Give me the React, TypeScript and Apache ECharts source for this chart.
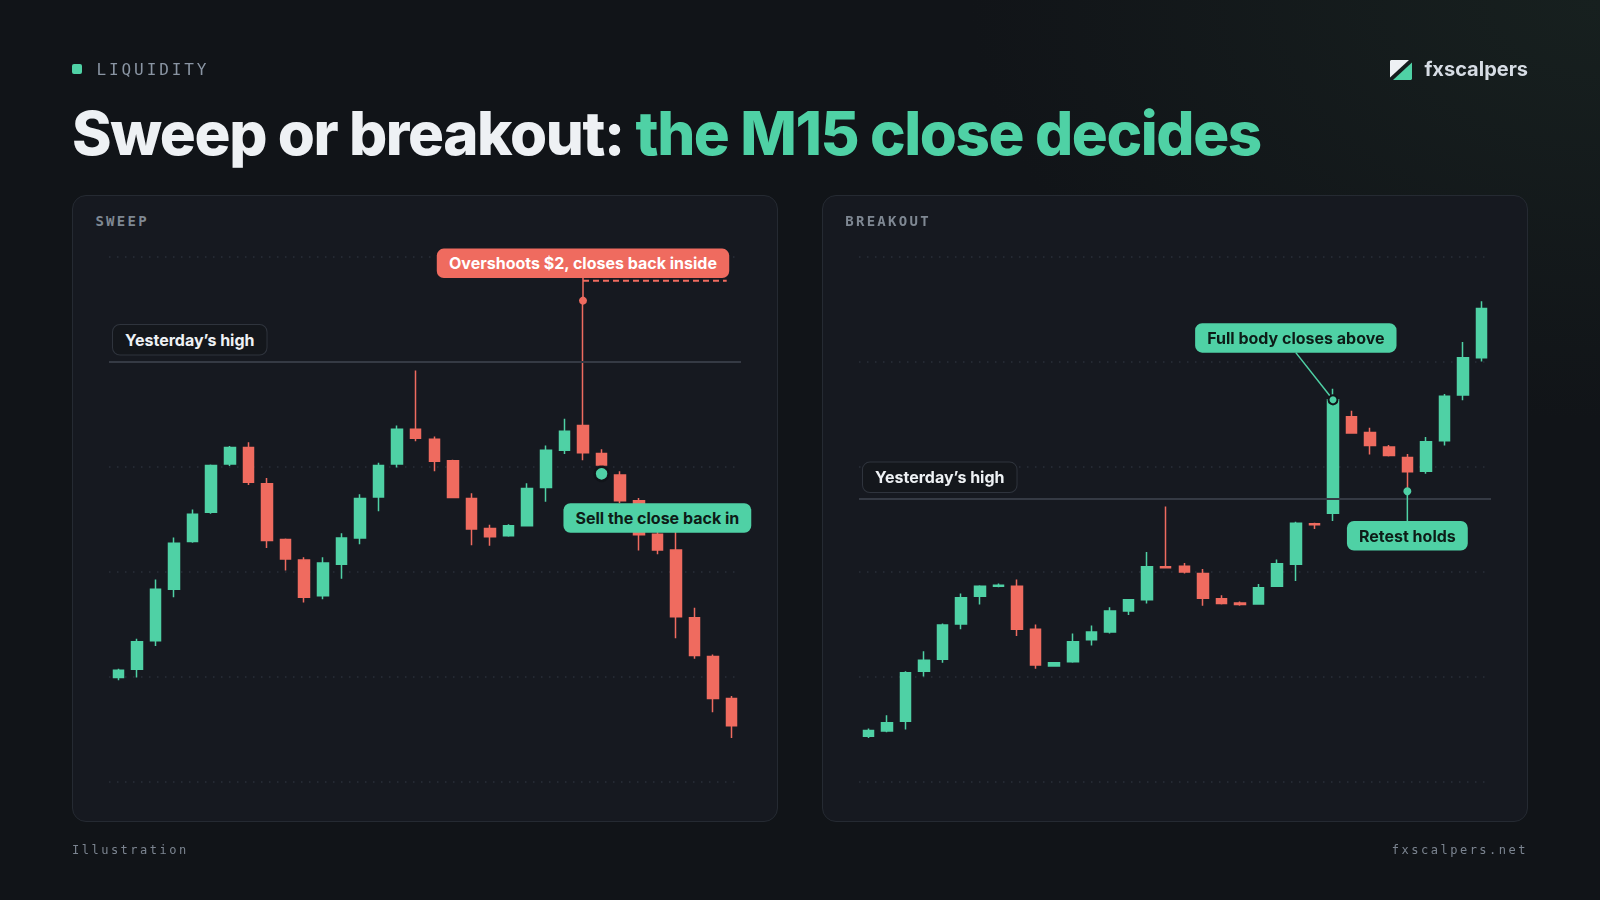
import React, { useEffect, useRef } from "react";
import * as echarts from "echarts";

// ---------- data ----------
const categories = [
  "09:00", "09:15", "09:30", "09:45", "10:00", "10:15", "10:30", "10:45",
  "11:00", "11:15", "11:30", "11:45", "12:00", "12:15", "12:30", "12:45",
  "13:00", "13:15", "13:30", "13:45", "14:00", "14:15", "14:30", "14:45",
  "15:00", "15:15", "15:30", "15:45", "16:00", "16:15", "16:30", "16:45",
  "17:00", "17:15",
];
const yTicks = [0, 20, 40, 60, 80, 100];

// SWEEP panel (open / high / low / close)
const sweepOpen = [19.8, 21.4, 26.8, 36.6, 45.7, 51.3, 60.5, 63.6, 56.7, 46.1, 42.2, 35.4, 41.4, 46.4, 54.2, 60.5, 67.1, 65.2, 61.1, 53.9, 48.2, 46.8, 48.7, 56.0, 63.1, 67.8, 62.5, 58.4, 53.5, 47.1, 44.1, 31.2, 23.8, 15.8];
const sweepHigh = [21.5, 27.2, 38.5, 46.5, 51.8, 60.4, 63.9, 64.6, 57.8, 46.3, 42.7, 42.7, 47.3, 54.7, 60.7, 67.8, 78.3, 65.7, 61.3, 54.9, 48.9, 49.0, 56.8, 64.0, 69.1, 91.6, 63.3, 59.1, 54.0, 47.6, 48.0, 33.1, 24.2, 16.3];
const sweepLow = [19.3, 19.8, 25.8, 35.1, 45.5, 51.0, 60.1, 56.5, 44.5, 40.2, 34.1, 34.7, 38.6, 45.2, 51.5, 59.8, 64.8, 59.1, 54.0, 45.0, 44.9, 46.6, 48.6, 53.3, 62.4, 61.2, 59.8, 53.0, 44.0, 43.3, 27.3, 23.4, 13.2, 8.3];
const sweepClose = [21.2, 26.6, 36.6, 45.4, 50.9, 60.2, 63.6, 57.0, 45.9, 42.4, 35.1, 41.6, 46.4, 53.9, 60.2, 67.1, 65.4, 61.0, 54.1, 48.1, 46.6, 48.7, 55.8, 63.1, 66.7, 62.6, 60.3, 53.5, 47.0, 44.1, 31.4, 24.0, 15.8, 10.6];

// BREAKOUT panel (open / high / low / close)
const breakoutOpen = [8.6, 9.6, 11.5, 21.0, 23.3, 30.0, 35.3, 37.2, 37.2, 29.0, 22.0, 22.8, 27.0, 28.5, 32.5, 34.6, 40.9, 41.0, 39.6, 34.8, 34.0, 33.8, 37.2, 41.4, 49.1, 51.1, 69.5, 66.5, 63.7, 61.7, 59.1, 64.9, 73.6, 80.7];
const breakoutHigh = [10.1, 12.6, 21.0, 24.8, 30.1, 35.8, 37.4, 37.7, 38.5, 29.9, 22.7, 28.2, 29.7, 33.2, 34.7, 43.7, 52.4, 41.6, 40.5, 35.5, 34.3, 37.6, 42.3, 49.5, 49.3, 74.8, 70.6, 67.4, 64.1, 62.4, 65.6, 73.8, 83.7, 91.5];
const breakoutLow = [8.3, 9.4, 9.9, 20.0, 22.6, 29.0, 33.7, 37.0, 27.7, 21.5, 21.9, 22.6, 25.9, 28.2, 31.7, 33.9, 40.6, 39.6, 33.5, 33.7, 33.5, 33.7, 37.1, 38.2, 48.1, 49.6, 66.3, 62.3, 61.9, 55.3, 58.6, 64.0, 72.6, 80.0];
const breakoutClose = [9.7, 11.2, 20.7, 23.1, 29.8, 35.0, 37.2, 37.4, 29.0, 22.2, 22.6, 26.6, 28.5, 32.5, 34.6, 40.9, 40.7, 39.9, 34.9, 33.9, 33.7, 36.9, 41.5, 49.2, 48.9, 72.7, 66.4, 64.0, 62.1, 59.0, 64.7, 73.4, 80.7, 90.1];

// levels and annotation anchors (category index, value)
const sweepYesterdayHigh = 80;
const breakoutYesterdayHigh = 53.8;
const sweepCandleIndex = 25;
const sweepOvershootLevel = 95.4;
const sweepLabelAnchor = [25, 98.7];
const sellDotAnchor = [26, 58.6];
const sellLabelAnchor = [29.45, 50.2];
const breakoutCandleIndex = 25;
const breakoutLabelAnchor = [22.7, 84.5];
const retestIndex = 29;
const retestLabelAnchor = [29, 46.8];

const texts = {
  kicker: "LIQUIDITY",
  titleA: "Sweep or breakout: ",
  titleB: "the M15 close decides",
  brand: "fxscalpers",
  left: "SWEEP",
  right: "BREAKOUT",
  high: "Yesterday\u2019s high",
  overshoot: "Overshoots $2, closes back inside",
  sell: "Sell the close back in",
  full: "Full body closes above",
  retest: "Retest holds",
  footL: "Illustration",
  footR: "fxscalpers.net",
};

// ---------- style ----------
const GREEN = "#4fd1a5";
const RED = "#ef6b5f";
const BG = "#111418";
const CARD_BG = "#161920";
const CARD_X = [72, 822];
const CARD_Y = 195;
const CARD_W = 706;
const CARD_H = 627;
const GRID_TOP = 256.5;
const GRID_H = 525;
const GRID_PAD = 37;
const MONO = "'DejaVu Sans Mono', 'Liberation Mono', monospace";
const SANS = "Inter, 'Noto Sans', sans-serif";

const ohlc = (o: number[], c: number[], l: number[], h: number[]) =>
  o.map((v, i) => [v, c[i], l[i], h[i]]);

export default function App() {
  const ref = useRef<HTMLDivElement>(null);

  useEffect(() => {
    const el = ref.current!;
    const chart = echarts.init(el, null, { renderer: "svg" });
    const grids = CARD_X.map((x) => ({
      left: x + GRID_PAD,
      top: GRID_TOP,
      width: CARD_W - 2 * GRID_PAD,
      height: GRID_H,
    }));
    const xAxes = [0, 1].map((g) => ({
      type: "category",
      gridIndex: g,
      data: categories,
      boundaryGap: true,
      axisLine: { show: false },
      axisTick: { show: false },
      axisLabel: { show: false },
      splitLine: { show: false },
    }));
    const yAxes = [0, 1].map((g) => ({
      type: "value",
      gridIndex: g,
      min: yTicks[0],
      max: yTicks[yTicks.length - 1],
      interval: yTicks[1] - yTicks[0],
      axisLine: { show: false },
      axisTick: { show: false },
      axisLabel: { show: false },
      splitLine: { show: true, lineStyle: { color: "#2a2f38", width: 1.5, type: [1.5, 6.5] } },
    }));
    const candleStyle = {
      color: GREEN,
      color0: RED,
      borderColor: GREEN,
      borderColor0: RED,
      borderWidth: 1.5,
    };
    const hiLine = (v: number) => ({
      silent: true,
      symbol: "none",
      label: { show: false },
      lineStyle: { color: "#353a44", width: 2, type: "solid" },
      data: [{ yAxis: v }],
    });
    chart.setOption({
      animation: false,
      backgroundColor: "transparent",
      grid: grids,
      xAxis: xAxes,
      yAxis: yAxes,
      series: [
        {
          type: "candlestick",
          name: "Sweep",
          xAxisIndex: 0,
          yAxisIndex: 0,
          barWidth: 11,
          itemStyle: candleStyle,
          data: ohlc(sweepOpen, sweepClose, sweepLow, sweepHigh),
          markLine: hiLine(sweepYesterdayHigh),
        },
        {
          type: "candlestick",
          name: "Breakout",
          xAxisIndex: 1,
          yAxisIndex: 1,
          barWidth: 11,
          itemStyle: candleStyle,
          data: ohlc(breakoutOpen, breakoutClose, breakoutLow, breakoutHigh),
          markLine: hiLine(breakoutYesterdayHigh),
        },
      ],
    });

    const P = (g: number, i: number, v: number) =>
      chart.convertToPixel({ gridIndex: g } as any, [i, v]) as number[];
    const BOX_H = 29.5;
    const box = (x: number, y: number, text: string, bg: string, fg: string, extra: any = {}) => ({
      type: "text",
      x,
      y,
      z: 30,
      silent: true,
      style: {
        text,
        fill: fg,
        fontFamily: SANS,
        fontSize: 16,
        fontWeight: 700,
        lineHeight: 17.5,
        align: "center",
        verticalAlign: "middle",
        backgroundColor: bg,
        borderRadius: 7,
        padding: [6, 12],
        ...extra,
      },
    });
    const line = (x1: number, y1: number, x2: number, y2: number, color: string, extra: any = {}) => ({
      type: "line",
      z: 25,
      silent: true,
      shape: { x1, y1, x2, y2 },
      style: { stroke: color, lineWidth: 1.5, ...extra },
    });
    const dot = (cx: number, cy: number, r: number, color: string, ring?: number) => ({
      type: "circle",
      z: 28,
      silent: true,
      shape: { cx, cy, r },
      style: ring ? { fill: color, stroke: "#111419", lineWidth: ring } : { fill: color },
    });

    const els: any[] = [];
    // yesterday's high labels
    [sweepYesterdayHigh, breakoutYesterdayHigh].forEach((lvl, g) => {
      const y = P(g, 0, lvl)[1];
      els.push(
        box(grids[g].left + 4, y - 7, texts.high, "#14171c", "#eef1f4", {
          align: "left",
          verticalAlign: "bottom",
          borderColor: "#2f343d",
          borderWidth: 1,
        })
      );
    });
    // sweep annotations
    const sx = P(0, sweepCandleIndex, 0)[0];
    const sHigh = P(0, sweepCandleIndex, sweepHigh[sweepCandleIndex])[1];
    const sLab = P(0, sweepLabelAnchor[0], sweepLabelAnchor[1]);
    const sDash = P(0, sweepCandleIndex, sweepOvershootLevel)[1];
    const lastX = P(0, categories.length - 1, 0)[0];
    els.push(line(sx, sLab[1] + BOX_H / 2, sx, sHigh, RED));
    els.push(line(sx, sDash, lastX - 5, sDash, RED, { lineWidth: 2, lineDash: [6, 4] }));
    els.push(dot(sx, sHigh, 4, RED));
    els.push(box(sLab[0], sLab[1], texts.overshoot, RED, "#ffffff"));
    const sd = P(0, sellDotAnchor[0], sellDotAnchor[1]);
    els.push(dot(sd[0], sd[1], 7, GREEN, 2.5));
    const sl = P(0, sellLabelAnchor[0], sellLabelAnchor[1]);
    els.push(box(sl[0], sl[1], texts.sell, GREEN, "#0d1c17"));

    // breakout annotations
    const bc = P(1, breakoutCandleIndex, breakoutClose[breakoutCandleIndex]);
    const bl = P(1, breakoutLabelAnchor[0], breakoutLabelAnchor[1]);
    els.push(line(bl[0], bl[1] + BOX_H / 2, bc[0], bc[1], GREEN));
    els.push(dot(bc[0], bc[1], 4.5, GREEN, 2));
    els.push(box(bl[0], bl[1], texts.full, GREEN, "#0d1c17"));
    const rd = P(1, retestIndex, breakoutLow[retestIndex]);
    const rl = P(1, retestLabelAnchor[0], retestLabelAnchor[1]);
    els.push(line(rd[0], rd[1], rl[0], rl[1] - BOX_H / 2, GREEN));
    els.push(dot(rd[0], rd[1], 4, GREEN));
    els.push(box(rl[0], rl[1], texts.retest, GREEN, "#0d1c17"));

    chart.setOption({ graphic: { elements: els } });
    return () => chart.dispose();
  }, []);

  const abs = (s: React.CSSProperties): React.CSSProperties => ({
    position: "absolute",
    whiteSpace: "nowrap",
    margin: 0,
    ...s,
  });

  return (
    <div
      style={{
        position: "fixed",
        left: 0,
        top: 0,
        width: 1600,
        height: 900,
        overflow: "hidden",
        background: `radial-gradient(ellipse 900px 600px at 100% 0%, #17201f 0%, ${BG} 70%)`,
        fontFamily: SANS,
      }}
    >
      {CARD_X.map((x) => (
        <div
          key={x}
          style={abs({
            left: x,
            top: CARD_Y,
            width: CARD_W - 2,
            height: CARD_H - 2,
            background: CARD_BG,
            border: "1px solid #252a32",
            borderRadius: 14,
          })}
        />
      ))}
      <div ref={ref} style={abs({ left: 0, top: 0, width: 1600, height: 900 })} />

      <div style={abs({ left: 72, top: 64, width: 10, height: 10, borderRadius: 2, background: GREEN })} />
      <div
        style={abs({
          left: 96.5,
          top: 61.5,
          fontFamily: MONO,
          fontSize: 16,
          lineHeight: "16px",
          letterSpacing: 2.9,
          color: "#8a95a3",
        })}
      >
        {texts.kicker}
      </div>
      <div
        style={abs({
          left: 72,
          top: 103.2,
          fontSize: 60,
          lineHeight: "60px",
          fontWeight: 800,
          letterSpacing: -1.4,
          color: "#eef1f4",
        })}
      >
        {texts.titleA}
        <span style={{ color: GREEN }}>{texts.titleB}</span>
      </div>
      <svg style={abs({ left: 1390, top: 59.5 })} width={22} height={20} viewBox="0 0 22 20">
        <polygon points="1,0 19,0 0,17.5 0,1" fill="#eef1f4" />
        <polygon points="22,2.5 22,19 21,20 3,20" fill={GREEN} />
      </svg>
      <div
        style={abs({
          right: 72,
          top: 58.7,
          fontSize: 20,
          lineHeight: "20px",
          fontWeight: 700,
          color: "#d6dce4",
        })}
      >
        {texts.brand}
      </div>

      <div
        style={abs({
          left: 95.4,
          top: 214,
          fontFamily: MONO,
          fontSize: 14,
          lineHeight: "14px",
          fontWeight: 700,
          letterSpacing: 2.3,
          color: "#7f8893",
        })}
      >
        {texts.left}
      </div>
      <div
        style={abs({
          left: 845.2,
          top: 214,
          fontFamily: MONO,
          fontSize: 14,
          lineHeight: "14px",
          fontWeight: 700,
          letterSpacing: 2.3,
          color: "#7f8893",
        })}
      >
        {texts.right}
      </div>

      <div
        style={abs({
          left: 72,
          top: 844,
          fontFamily: MONO,
          fontSize: 12,
          lineHeight: "12px",
          letterSpacing: 2.5,
          color: "#7b8490",
        })}
      >
        {texts.footL}
      </div>
      <div
        style={abs({
          right: 72,
          top: 844,
          fontFamily: MONO,
          fontSize: 12,
          lineHeight: "12px",
          letterSpacing: 2.5,
          color: "#7b8490",
        })}
      >
        {texts.footR}
      </div>
    </div>
  );
}
